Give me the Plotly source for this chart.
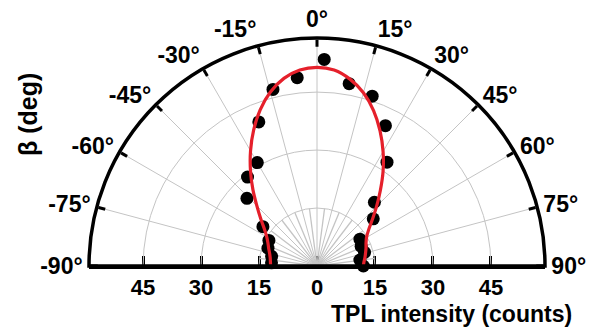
import plotly.graph_objects as go

# ---- data ----
beta_deg = [-86, -78, -70, -62, -54, -46, -38, -30, -22, -14, -6, 2,
            10, 18, 26, 34, 42, 50, 58, 66, 74, 82, 90]
tpl_counts = [11.8, 12.0, 13.5, 14.1, 17.3, 25.2, 29.2, 30.9, 40.2, 47.1, 49.0, 53.5,
              47.9, 46.2, 40.4, 32.4, 22.2, 19.0, 13.1, 12.5, 12.8, 11.2, 12.0]

fit_beta = [-90, -85, -80, -75, -70, -65, -60, -55, -50, -45, -40, -35, -30, -25,
            -20, -15, -10, -5, 0, 5, 10, 15, 20, 25, 30, 35, 40, 45, 50, 55, 60,
            65, 70, 75, 80, 85, 90]
fit_counts = [12.0, 12.1, 12.3, 12.7, 13.3, 14.0, 15.0, 16.6, 19.0, 22.0, 25.8, 30.0,
              34.4, 38.8, 43.0, 46.6, 49.3, 50.9, 51.4, 50.9, 49.1, 46.4, 42.8, 38.6,
              34.2, 29.8, 25.5, 21.8, 18.7, 16.3, 14.8, 14.0, 13.5, 13.0, 12.6, 12.2, 12.0]

angle_ticks = [-90, -75, -60, -45, -30, -15, 0, 15, 30, 45, 60, 75, 90]
angle_labels = [f"{a}°" for a in angle_ticks]
radial_ticks = [0, 15, 30, 45]
radial_max = 59
minor_angles = [-82.5, -67.5, -52.5, -37.5, -22.5, -7.5, 7.5, 22.5, 37.5, 52.5, 67.5, 82.5]
minor_len = 15

FONT = dict(family="Liberation Sans, Arial, sans-serif", size=23, color="black", weight="bold")
RFONT = dict(FONT, size=22)
GRID = "#c4c4c4"

# symmetric radial scale drawn along the diameter (both halves of the baseline)
base_vals = [-v for v in reversed(radial_ticks[1:])] + radial_ticks
base_text = [str(abs(v)) for v in base_vals]

# minor spokes near the centre
mr, mt = [], []
for a in minor_angles:
    mr += [0, minor_len, None]
    mt += [a, a, None]

fig = go.Figure()
# empty cartesian trace: activates the baseline axis
fig.add_trace(go.Scatter(x=[], y=[], mode="markers", showlegend=False, hoverinfo="skip"))
fig.add_trace(go.Scatterpolar(r=mr, theta=mt, mode="lines",
                              line=dict(color=GRID, width=1.3),
                              hoverinfo="skip", showlegend=False, subplot="polar"))
fig.add_trace(go.Scatterpolar(r=tpl_counts, theta=beta_deg, mode="markers",
                              marker=dict(color="black", size=13),
                              showlegend=False, subplot="polar"))
fig.add_trace(go.Scatterpolar(r=fit_counts, theta=fit_beta, mode="lines",
                              line=dict(color="#e5202b", width=3.2, shape="spline"),
                              showlegend=False, subplot="polar"))

W, H, L, R, T, B = 590, 331, 89, 45, 38, 65

fig.update_layout(
    width=W, height=H,
    margin=dict(l=L, r=R, t=T, b=B),
    paper_bgcolor="white",
    plot_bgcolor="rgba(0,0,0,0)",
    font=FONT,
    xaxis=dict(
        domain=[0, 1], range=[-radial_max, radial_max], fixedrange=True,
        tickmode="array", tickvals=base_vals, ticktext=base_text, tickfont=RFONT,
        ticks="inside", ticklen=10, tickwidth=2.5, tickcolor="black",
        showline=True, linecolor="black", linewidth=3,
        showgrid=False, zeroline=False,
    ),
    yaxis=dict(domain=[0, 1], range=[0, 1], visible=False, fixedrange=True),
    polar=dict(
        domain=dict(x=[0, 1], y=[0, 1]), sector=[0, 180],
        bgcolor="rgba(0,0,0,0)",
        angularaxis=dict(
            rotation=90, direction="clockwise", thetaunit="degrees",
            tickmode="array", tickvals=angle_ticks, ticktext=angle_labels,
            tickfont=FONT, ticks="inside", ticklen=7, tickwidth=2.5, tickcolor="black",
            showline=True, linecolor="black", linewidth=3.5,
            showgrid=True, gridcolor=GRID, gridwidth=1.3,
        ),
        radialaxis=dict(
            range=[0, radial_max], angle=0,
            tickmode="array", tickvals=radial_ticks,
            showticklabels=False, ticks="", showline=False,
            showgrid=True, gridcolor=GRID, gridwidth=1.3,
        ),
    ),
)

pw, ph = W - L - R, H - T - B


def to_paper(px, py):
    return (px - L) / pw, 1 - (py - T) / ph


bx, by = to_paper(28, 115)
tx, ty = to_paper(451, 314)
fig.update_layout(annotations=[
    dict(text="β (deg)", x=bx, y=by, xref="paper", yref="paper", xanchor="center",
         yanchor="middle", showarrow=False, textangle=-90, font=dict(FONT, size=25)),
    dict(text="TPL intensity (counts)", x=tx, y=ty, xref="paper", yref="paper",
         xanchor="center", yanchor="middle", showarrow=False, font=FONT),
])

fig.write_html("out.html", config={"displayModeBar": False},
               post_script="document.body.style.margin='0px';")
